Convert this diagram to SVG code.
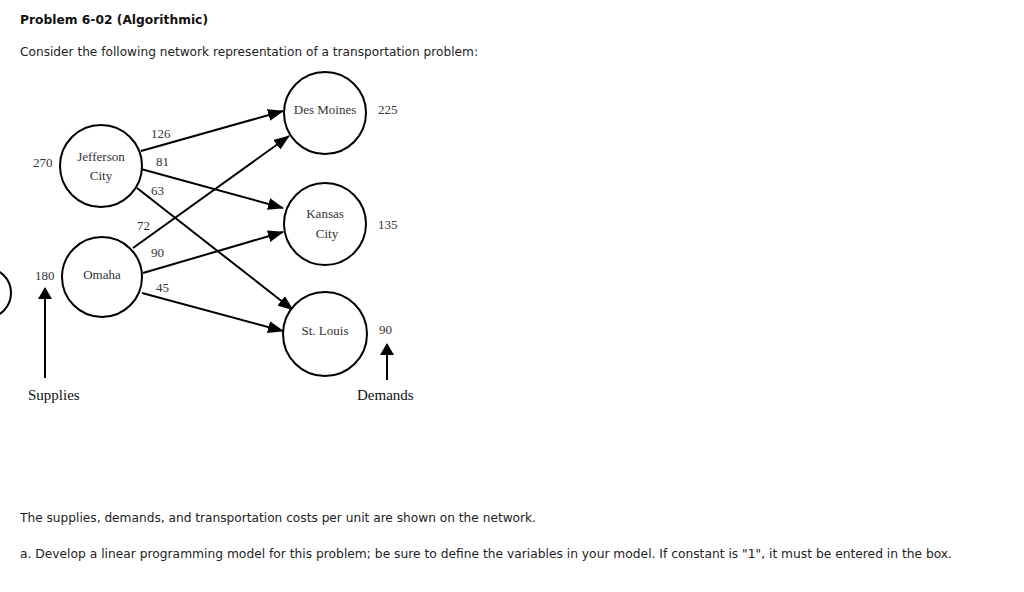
<svg xmlns="http://www.w3.org/2000/svg" width="1024" height="592" viewBox="0 0 1024 592">
<defs>
<style>
.title{font-family:"DejaVu Sans",Verdana,sans-serif;font-size:11.5px;font-weight:bold;fill:#111}
.body{font-family:"DejaVu Sans",Verdana,sans-serif;font-size:12px;fill:#222}
.small{font-family:"DejaVu Sans Condensed","DejaVu Sans",sans-serif;font-size:12.5px;fill:#222}
.node circle{fill:#fff;stroke:#000;stroke-width:2}
.lbl{font-family:"Liberation Serif","Times New Roman",serif;font-size:13px;fill:#333}
.big{font-family:"Liberation Serif","Times New Roman",serif;font-size:15px;fill:#111}
.edge{stroke:#000;stroke-width:2;fill:none}
</style>
<marker id="ah" viewBox="0 0 16 12" refX="15" refY="6" markerWidth="16" markerHeight="12" markerUnits="userSpaceOnUse" orient="auto">
<path d="M0,0 L16,6 L0,12 Z" fill="#000"/>
</marker>
<marker id="ah2" viewBox="0 0 12 14" refX="11" refY="7" markerWidth="12" markerHeight="14" markerUnits="userSpaceOnUse" orient="auto">
<path d="M0,0 L12,7 L0,14 Z" fill="#000"/>
</marker>
</defs>
<rect width="1024" height="592" fill="#fff"/>
<text class="title" x="20" y="24" textLength="188" lengthAdjust="spacingAndGlyphs">Problem 6-02 (Algorithmic)</text>
<text class="body" x="20" y="56" textLength="458" lengthAdjust="spacingAndGlyphs">Consider the following network representation of a transportation problem:</text>

<circle cx="-14" cy="293" r="25" fill="none" stroke="#000" stroke-width="2"/>

<g id="connectors">
<line class="edge" x1="141" y1="151" x2="283" y2="111" marker-end="url(#ah)"/>
<line class="edge" x1="141" y1="169" x2="283" y2="208" marker-end="url(#ah)"/>
<line class="edge" x1="137" y1="188" x2="293" y2="310" marker-end="url(#ah)"/>
<line class="edge" x1="133" y1="248" x2="289" y2="136" marker-end="url(#ah)"/>
<line class="edge" x1="143" y1="273" x2="283" y2="232" marker-end="url(#ah)"/>
<line class="edge" x1="142" y1="293" x2="283" y2="331" marker-end="url(#ah)"/>
<line class="edge" x1="45" y1="378" x2="45" y2="288" marker-end="url(#ah2)"/>
<line class="edge" x1="387" y1="380" x2="387" y2="344" marker-end="url(#ah2)"/>
</g>

<g id="jefferson" class="node">
<circle cx="101" cy="166" r="41"/>
<text class="lbl" x="101" y="161" text-anchor="middle">Jefferson</text>
<text class="lbl" x="101" y="180" text-anchor="middle">City</text>
</g>
<g id="omaha" class="node">
<circle cx="102" cy="277" r="40"/>
<text class="lbl" x="102" y="279" text-anchor="middle">Omaha</text>
</g>
<g id="desmoines" class="node">
<circle cx="325" cy="113" r="41"/>
<text class="lbl" x="325" y="114" text-anchor="middle">Des Moines</text>
</g>
<g id="kansas" class="node">
<circle cx="325" cy="224" r="41"/>
<text class="lbl" x="325" y="218" text-anchor="middle">Kansas</text>
<text class="lbl" x="327" y="238" text-anchor="middle">City</text>
</g>
<g id="stlouis" class="node">
<circle cx="325" cy="334" r="42"/>
<text class="lbl" x="325" y="335" text-anchor="middle">St. Louis</text>
</g>

<g id="labels">
<text class="lbl" x="33" y="167">270</text>
<text class="lbl" x="35" y="280">180</text>
<text class="lbl" x="378" y="114">225</text>
<text class="lbl" x="378" y="229">135</text>
<text class="lbl" x="379" y="334">90</text>
<text class="lbl" x="151" y="138">126</text>
<text class="lbl" x="156" y="166">81</text>
<text class="lbl" x="151" y="195">63</text>
<text class="lbl" x="137" y="230">72</text>
<text class="lbl" x="151" y="257">90</text>
<text class="lbl" x="156" y="292">45</text>
<text class="big" x="28" y="400">Supplies</text>
<text class="big" x="357" y="400">Demands</text>
</g>

<text class="small" x="20" y="522" textLength="516" lengthAdjust="spacingAndGlyphs">The supplies, demands, and transportation costs per unit are shown on the network.</text>
<text class="small" x="20" y="558" textLength="932" lengthAdjust="spacingAndGlyphs">a.  Develop a linear programming model for this problem; be sure to define the variables in your model. If constant is "1", it must be entered in the box.</text>
</svg>
